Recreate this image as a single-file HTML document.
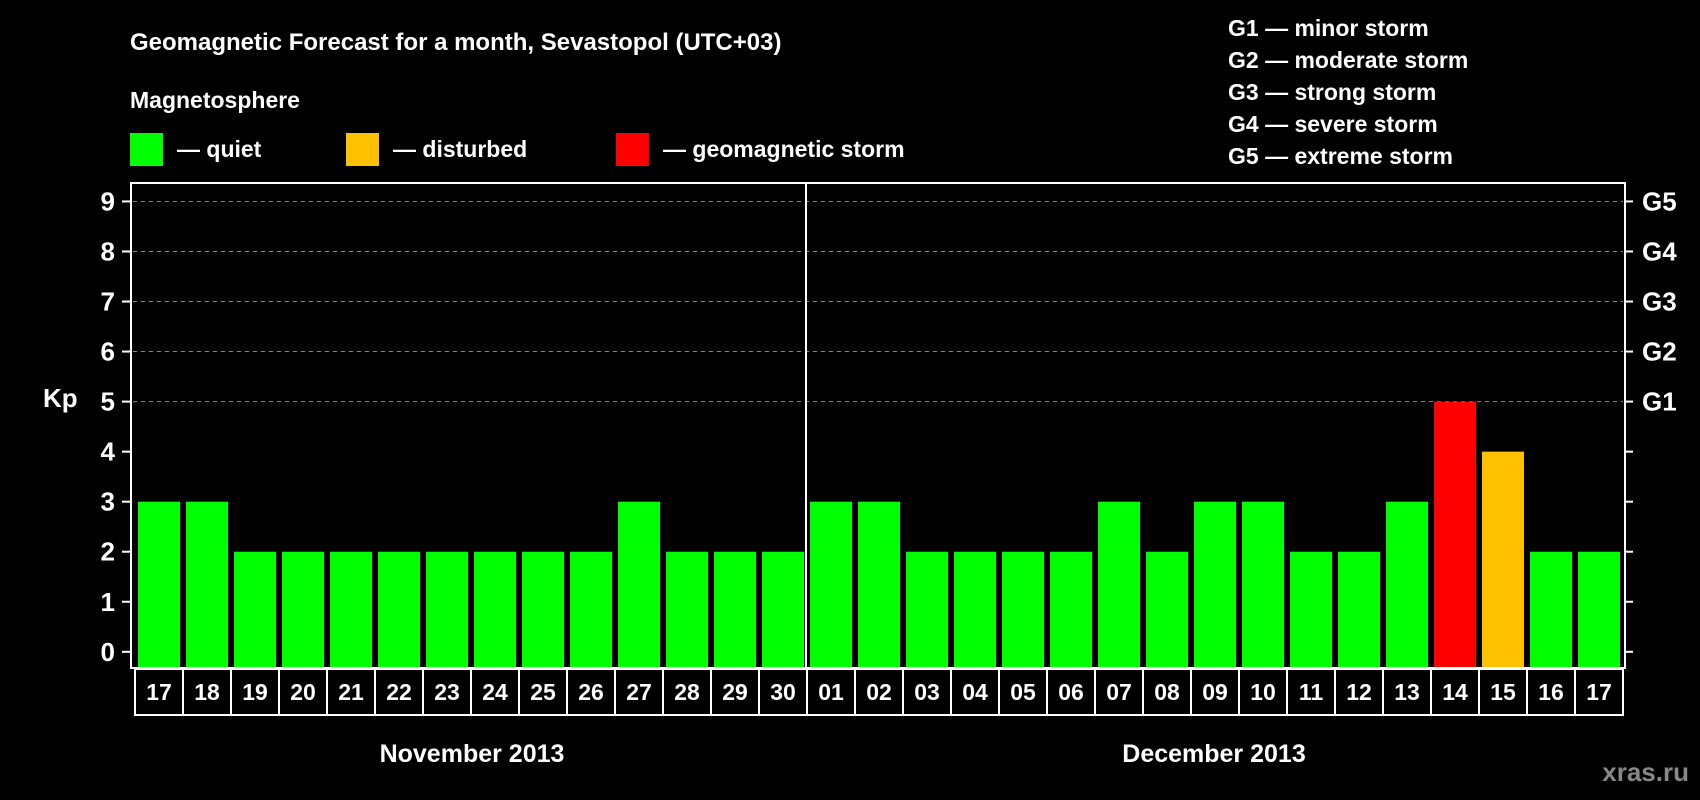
<!DOCTYPE html>
<html><head><meta charset="utf-8"><style>
body{margin:0;background:#000;width:1700px;height:800px;overflow:hidden}
svg{display:block;font-family:"Liberation Sans",sans-serif;font-weight:bold}
</style></head><body>
<svg id="c" width="1700" height="800">
<text x="130" y="50" fill="#fff" font-size="24">Geomagnetic Forecast for a month, Sevastopol (UTC+03)</text>
<text x="130" y="108" fill="#fff" font-size="23">Magnetosphere</text>
<rect x="130" y="133" width="33" height="33" fill="#00ff00"/>
<text x="177" y="157" fill="#fff" font-size="23">— quiet</text>
<rect x="346" y="133" width="33" height="33" fill="#ffc000"/>
<text x="393" y="157" fill="#fff" font-size="23">— disturbed</text>
<rect x="616" y="133" width="33" height="33" fill="#ff0000"/>
<text x="663" y="157" fill="#fff" font-size="23">— geomagnetic storm</text>
<g fill="#fff" font-size="23">
<text x="1228" y="36">G1 — minor storm</text>
<text x="1228" y="68">G2 — moderate storm</text>
<text x="1228" y="100">G3 — strong storm</text>
<text x="1228" y="132">G4 — severe storm</text>
<text x="1228" y="164">G5 — extreme storm</text>
</g>
<text x="43" y="407" fill="#fff" font-size="26">Kp</text>
<text x="472" y="762" fill="#fff" font-size="25" text-anchor="middle">November 2013</text>
<text x="1214" y="762" fill="#fff" font-size="25" text-anchor="middle">December 2013</text>
<text x="1689" y="781" fill="#888" font-size="26" text-anchor="end">xras.ru</text>
<g id="plot"></g>
</svg>
<script>
const days=["17","18","19","20","21","22","23","24","25","26","27","28","29","30","01","02","03","04","05","06","07","08","09","10","11","12","13","14","15","16","17"];
const kp=[3,3,2,2,2,2,2,2,2,2,3,2,2,2,3,3,2,2,2,2,3,2,3,3,2,2,3,5,4,2,2];
const yTicks=[0,1,2,3,4,5,6,7,8,9];
const gLabels=["G1","G2","G3","G4","G5"];
const NS="http://www.w3.org/2000/svg",g=document.getElementById('plot');
const X0=135,STEP=48,y=v=>651.8-v*50.04;
function mk(t,a){const e=document.createElementNS(NS,t);for(const k in a)e.setAttribute(k,a[k]);g.appendChild(e);return e;}
yTicks.forEach(v=>{
 if(v>=5){const l=mk('line',{x1:133,x2:1623,y1:y(v),y2:y(v),stroke:'#888','stroke-dasharray':'4,4','stroke-width':1});
 
 }
 const t1=mk('line',{x1:122,x2:131,y1:y(v),y2:y(v),stroke:'#fff','stroke-width':2});
 
 
 const t2=mk('line',{x1:1625,x2:1633,y1:y(v),y2:y(v),stroke:'#fff','stroke-width':2});
 
 
 const tx=mk('text',{x:115,y:y(v)+9,fill:'#fff','font-size':26,'text-anchor':'end'});tx.textContent=v;
 
 
});
gLabels.forEach((s,i)=>{const t=mk('text',{x:1642,y:y(5+i)+9,fill:'#fff','font-size':26});t.textContent=s;
 
 });
kp.forEach((v,i)=>{
 const col=v>=5?'#ff0000':v>=4?'#ffc000':'#00ff00';
 const r=mk('rect',{x:X0+3+i*STEP,y:y(v),width:42,height:667-y(v),fill:col});
 
 
 const b=mk('rect',{x:X0+i*STEP,y:669,width:STEP,height:46,fill:'none',stroke:'#fff','stroke-width':2});
 
 
 const t=mk('text',{x:X0+i*STEP+STEP/2,y:700,fill:'#fff','font-size':23,'text-anchor':'middle'});t.textContent=days[i];
 
 
});
const box=mk('rect',{x:131,y:183,width:1494,height:485,fill:'none',stroke:'#fff','stroke-width':2});


const dv=mk('line',{x1:X0+14*STEP-1,x2:X0+14*STEP-1,y1:183,y2:668,stroke:'#fff','stroke-width':2});


</script>
</body></html>
